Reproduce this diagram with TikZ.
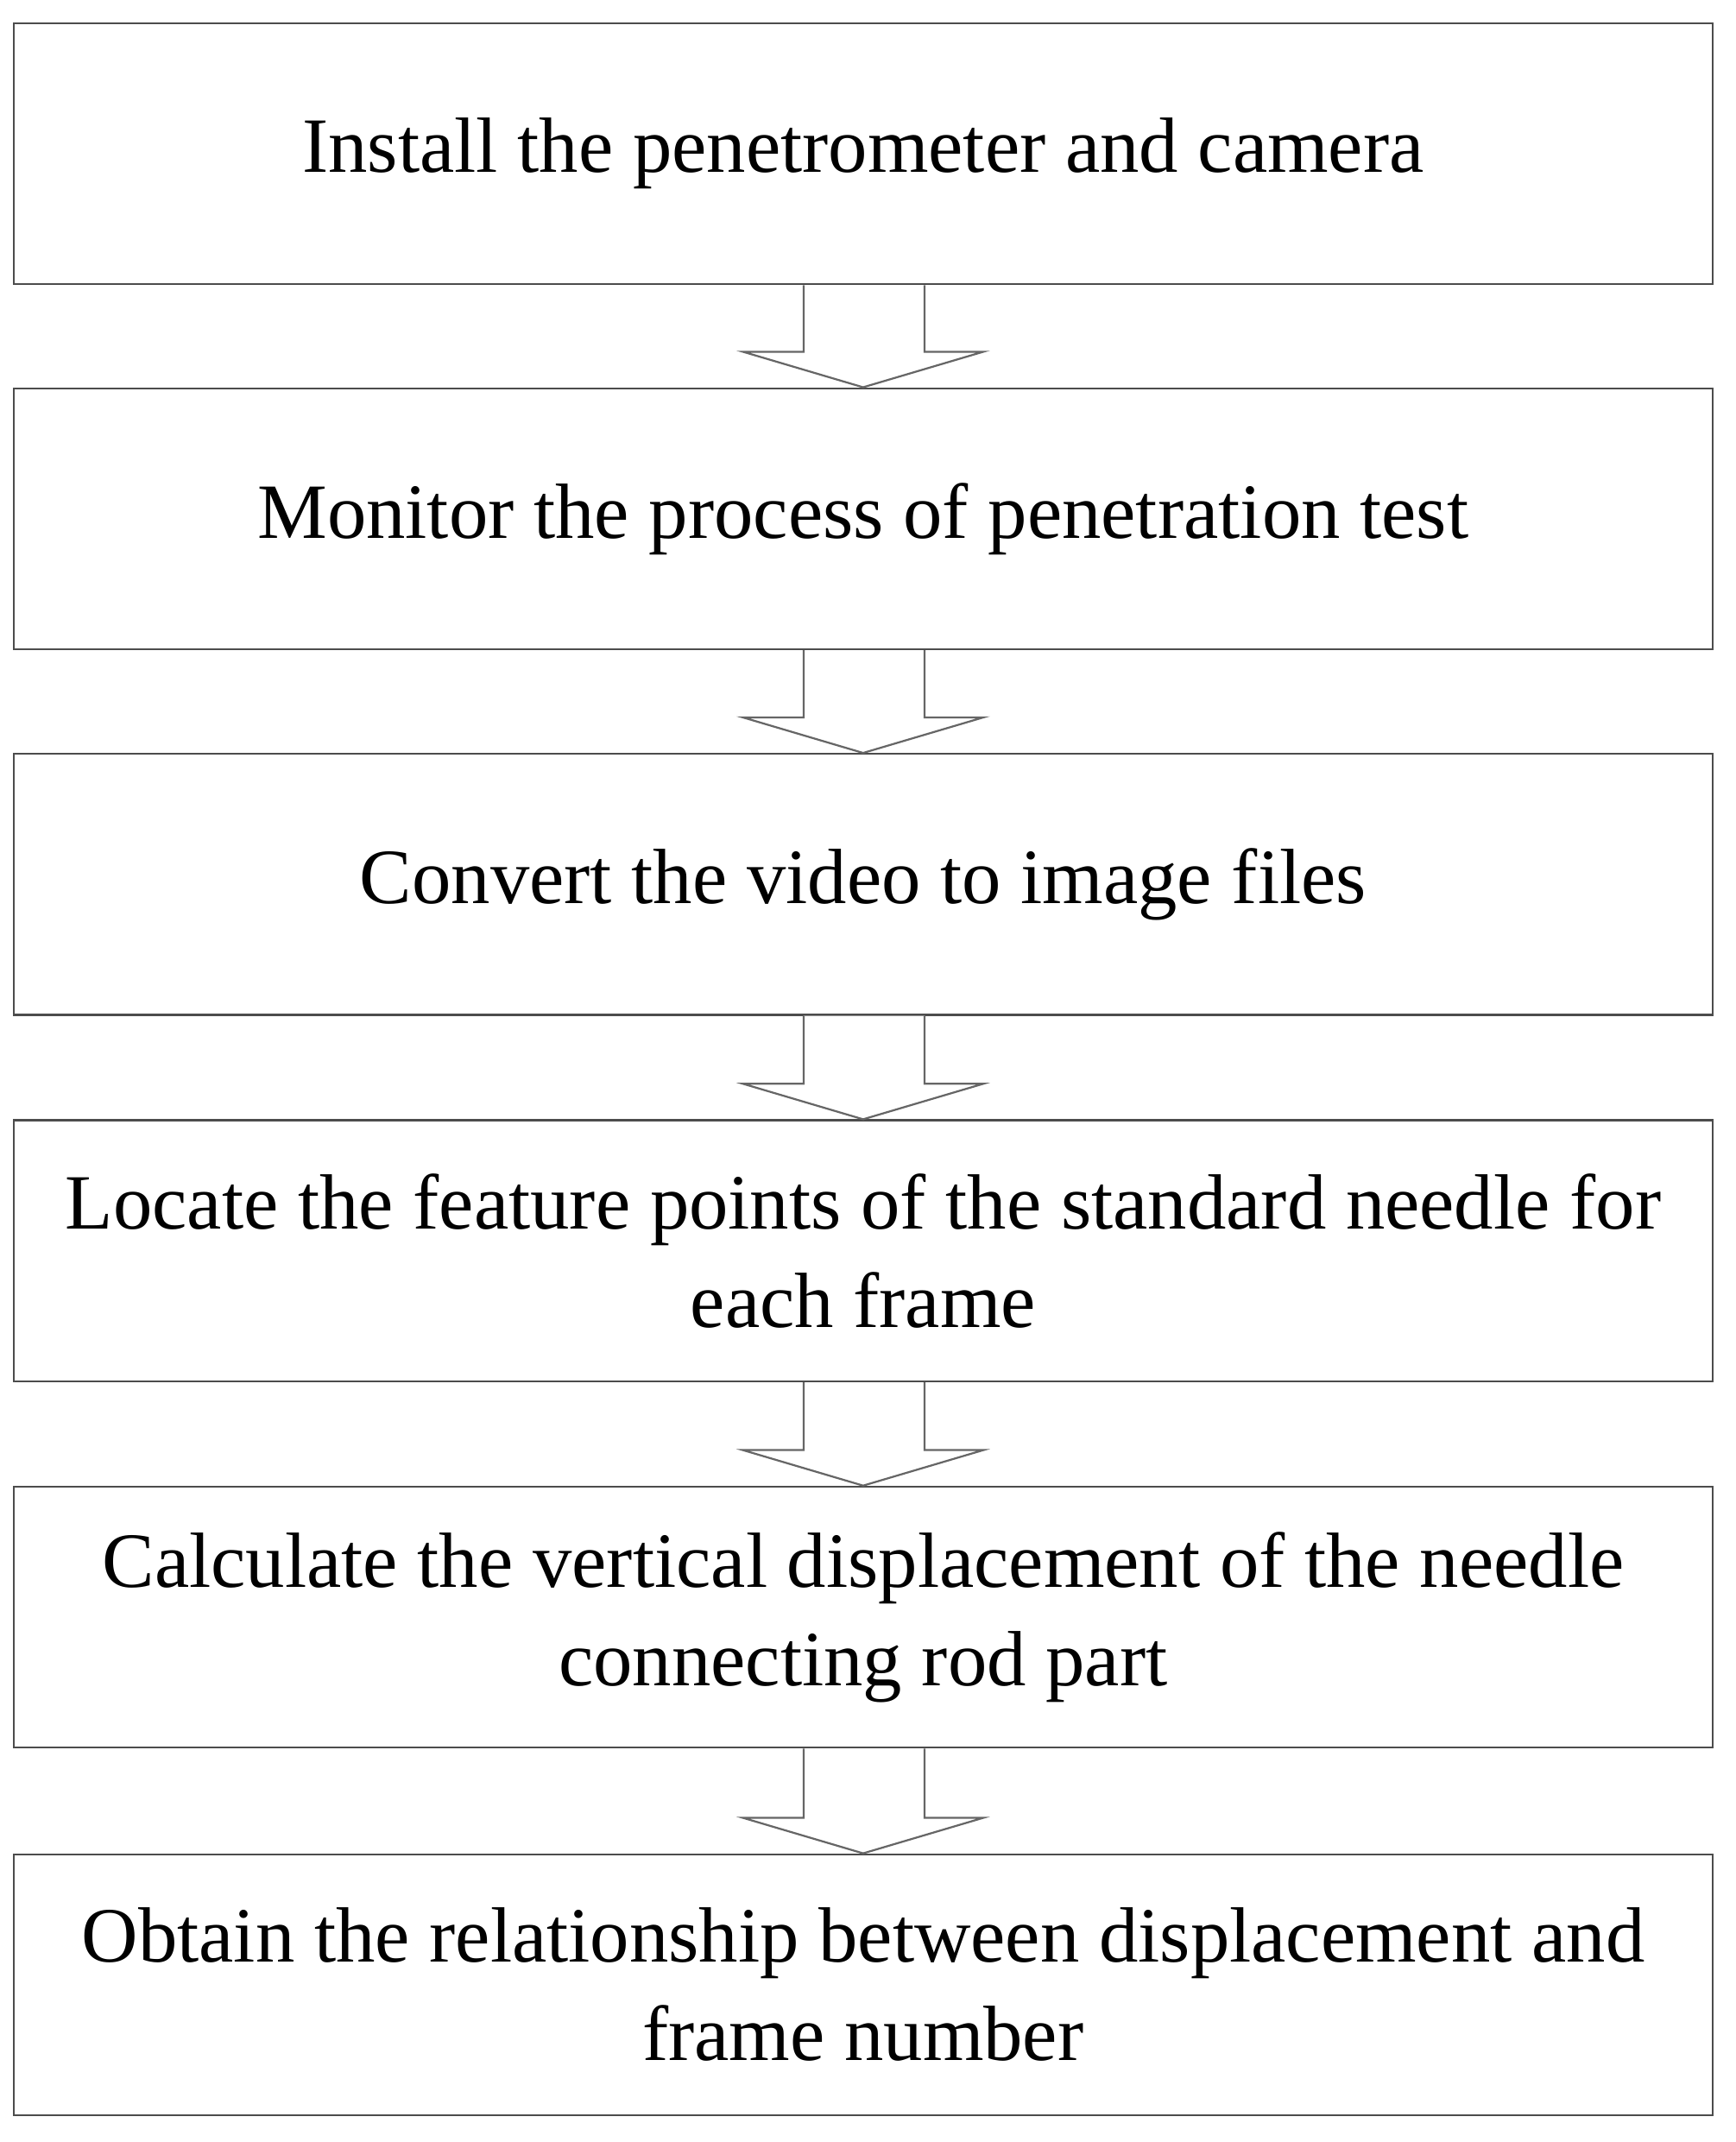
\documentclass[tikz,border=0pt]{standalone}
\usepackage{fontspec}
\setmainfont{Liberation Serif}
\begin{document}
\begin{tikzpicture}[x=0.02cm,y=-0.02cm,
  box/.style={draw=black!70,line width=0.8pt,minimum width=24.86cm,minimum height=3.82cm,align=center,font=\fontsize{32.6}{41}\selectfont,inner sep=0pt},
  blk/.style={draw=black!60,line width=0.8pt,fill=white}]
\useasboundingbox (0,0) rectangle (1270,1567);
\node[box] (b1) at (631.5,112.5) {Install the penetrometer and camera};
\node[box] (b2) at (631.5,379.5) {Monitor the process of penetration test};
\node[box] (b3) at (631.5,647) {Convert the video to image files};
\node[box] (b4) at (631.5,915) {Locate the feature points of the standard needle for\\each frame};
\node[box] (b5) at (631.5,1183) {Calculate the vertical displacement of the needle\\connecting rod part};
\node[box] (b6) at (631.5,1452) {Obtain the relationship between displacement and\\frame number};
\foreach \a/\b in {b1/b2,b2/b3,b3/b4,b4/b5,b5/b6}{
  \draw[blk] ([xshift=-0.87cm]\a.south) -- ([xshift=-0.87cm,yshift=0.52cm]\b.north)
    -- ([xshift=-1.76cm,yshift=0.52cm]\b.north) -- (\b.north)
    -- ([xshift=1.76cm,yshift=0.52cm]\b.north) -- ([xshift=0.9cm,yshift=0.52cm]\b.north)
    -- ([xshift=0.9cm]\a.south);
}
\end{tikzpicture}
\end{document}
